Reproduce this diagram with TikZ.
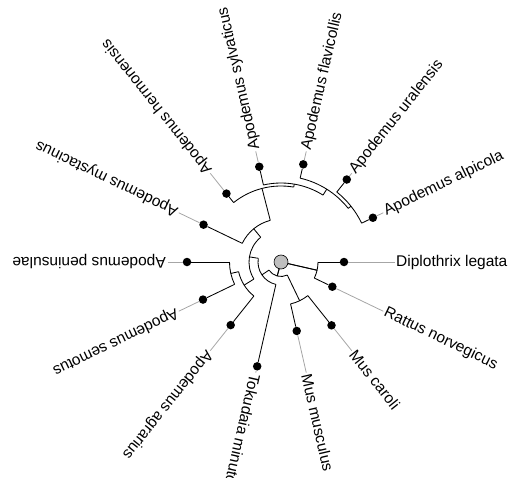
\documentclass[tikz,border=0pt]{standalone}
\usepackage{fontspec}
\setmainfont{Liberation Sans}
\begin{document}
\begin{tikzpicture}[x=1pt,y=1pt,
  br/.style={line width=0.85pt, black},
  gl/.style={line width=0.8pt, black!35},
  tipdot/.style={circle, fill=black, inner sep=0pt, minimum size=8.5pt},
  lab/.style={anchor=west, inner sep=0pt, font=\fontsize{15.5}{18}\selectfont},
  rootdot/.style={circle, draw=black, fill=black!25, line width=0.6pt, inner sep=0pt, minimum size=14pt}]
\clip (0,0) rectangle (510,477);
\begin{scope}[shift={(281,215)}]
% internal nodes: name / angle / parent radius / own radius
\foreach \n/\a/\rp/\r in {
  DR/-12.857/0/37, Y/-105.167/0/14.5, Mus/-64.286/14.5/43, A/-146.049/14.5/23,
  C/-189.241/23/32, Ag/-147.857/32/43.5, SP/-167.143/43.5/51.5, D/-230.625/32/43,
  E/-255.536/43/76, F/-279.643/76/79, G/-302.143/79/86, H/-321.429/86/89.5}{
  \coordinate (\n-in) at (\a:\rp);
  \coordinate (\n) at (\a:\r);
  \draw[br] (\n-in) -- (\n);
}
% arcs of the internal nodes
\draw[br] (0:37) arc[start angle=0, end angle=-25.714, radius=37];
\draw[br] (Mus-in) arc[start angle=-64.286, end angle=-146.049, radius=14.5];
\draw[br] (-51.429:43) arc[start angle=-51.429, end angle=-77.143, radius=43];
\draw[br] (-102.857:23) arc[start angle=-102.857, end angle=-189.241, radius=23];
\draw[br] (Ag-in) arc[start angle=-147.857, end angle=-230.625, radius=32];
\draw[br] (-128.571:43.5) arc[start angle=-128.571, end angle=-167.143, radius=43.5];
\draw[br] (-154.286:51.5) arc[start angle=-154.286, end angle=-180, radius=51.5];
\draw[br] (-205.714:43) arc[start angle=-205.714, end angle=-255.536, radius=43];
\draw[br] (-231.429:76) arc[start angle=-231.429, end angle=-279.643, radius=76];
\draw[br] (-257.143:79) arc[start angle=-257.143, end angle=-302.143, radius=79];
\draw[br] (-282.857:86) arc[start angle=-282.857, end angle=-321.429, radius=86];
\draw[br] (-308.571:89.5) arc[start angle=-308.571, end angle=-334.286, radius=89.5];
% tips: name / angle / parent radius / tip radius / label
\foreach \n/\a/\rp/\rt/\txt in {
  dip/0/37/63/Diplothrix legata,
  rat/-25.714/37/57/Rattus norvegicus,
  mca/-51.429/43/81/Mus caroli,
  mmu/-77.143/43/70.7/Mus musculus,
  tok/-102.857/23/107/Tokudaia minutoides,
  agr/-128.571/43.5/80.7/Apodemus agrarius,
  sem/-154.286/51.5/86.6/Apodemus semotus,
  pen/-180/51.5/94/Apodemus peninsulae,
  mys/154.286/43/86/Apodemus mystacinus,
  her/128.571/76/87.5/Apodemus hermonensis,
  syl/102.857/79/97.7/Apodemus sylvaticus,
  fla/77.143/86/100.2/Apodemus flavicollis,
  ura/51.429/89.5/105.5/Apodemus uralensis,
  alp/25.714/89.5/102/Apodemus alpicola}{
  \coordinate (\n-in) at (\a:\rp);
  \coordinate (\n-al) at (\a:113.5);
  \node[tipdot] (\n) at (\a:\rt) {};
  \draw[br] (\n-in) -- (\n);
  \draw[gl] (\n) -- (\n-al);
  \node[lab, rotate=\a] (\n-lab) at (\a:115) {\txt};
}
\node[rootdot] (root) at (0,0) {};
\draw[br] (root) -- (DR);
\draw[br] (root) -- (Y);
\end{scope}
\end{tikzpicture}
\end{document}
